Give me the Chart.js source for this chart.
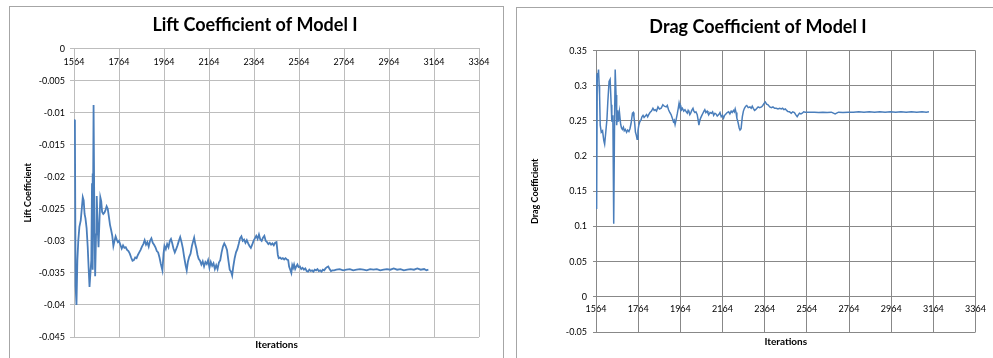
<!DOCTYPE html>
<html>
<head>
<meta charset="utf-8">
<title>Model I coefficients</title>
<script src="https://cdn.jsdelivr.net/npm/chart.js@4.4.1/dist/chart.umd.min.js"></script>
<style>
  body { margin: 0; background: #fff; width: 993px; height: 358px; overflow: hidden; position: relative; }
  .panel { position: absolute; border: 1px solid #a6a6a6; }
  #liftPanel { left: 9px; top: 6px; width: 493px; height: 370px; }
  #dragPanel { left: 516px; top: 7px; width: 500px; height: 370px; }
  canvas { position: absolute; }
  #liftChart { left: 10px; top: 7px; }
  #dragChart { left: 517px; top: 8px; }
</style>
</head>
<body>
<div class="panel" id="liftPanel"></div>
<div class="panel" id="dragPanel"></div>
<canvas id="liftChart" width="492" height="351"></canvas>
<canvas id="dragChart" width="476" height="350"></canvas>
<script>
// iteration axis (shared)
const iterMin = 1564;
const iterMax = 3364;
const iterStep = 200;

// lift coefficient
const liftIters = [
  1564, 1568, 1571, 1575, 1579, 1583, 1588, 1594, 1599, 1603, 1607, 1611, 1615, 1620, 1625, 1629,
  1633, 1637, 1641, 1644, 1646, 1648, 1651, 1654, 1658, 1662, 1665, 1669, 1673, 1677, 1681, 1685,
  1689, 1694, 1699, 1704, 1709, 1714, 1719, 1724, 1729, 1734, 1739, 1744, 1749, 1754, 1759, 1764,
  1770, 1776, 1782, 1788, 1794, 1800, 1806, 1812, 1818, 1824, 1830, 1836, 1842, 1848, 1854, 1860,
  1866, 1872, 1878, 1884, 1890, 1896, 1902, 1908, 1914, 1920, 1926, 1932, 1938, 1944, 1950, 1957,
  1962, 1966, 1972, 1978, 1984, 1990, 1995, 2000, 2006, 2012, 2018, 2024, 2030, 2036, 2042, 2048,
  2054, 2060, 2065, 2070, 2076, 2082, 2088, 2094, 2098, 2103, 2108, 2113, 2118, 2124, 2130, 2136,
  2142, 2148, 2154, 2160, 2166, 2172, 2178, 2184, 2190, 2196, 2202, 2208, 2214, 2220, 2226, 2232,
  2238, 2244, 2250, 2256, 2262, 2267, 2272, 2278, 2284, 2290, 2296, 2302, 2308, 2314, 2320, 2326,
  2332, 2338, 2344, 2350, 2356, 2362, 2368, 2374, 2380, 2386, 2392, 2398, 2404, 2410, 2416, 2422,
  2428, 2434, 2440, 2446, 2452, 2458, 2464, 2470, 2474, 2480, 2486, 2492, 2498, 2504, 2510, 2516,
  2520, 2525, 2530, 2534, 2538, 2542, 2547, 2552, 2557, 2562, 2568, 2574, 2580, 2586, 2592, 2598,
  2604, 2610, 2616, 2622, 2628, 2634, 2640, 2646, 2652, 2658, 2664, 2670, 2676, 2682, 2688, 2694,
  2700, 2706, 2712, 2720, 2730, 2745, 2760, 2775, 2790, 2805, 2820, 2835, 2850, 2865, 2880, 2895,
  2910, 2925, 2940, 2955, 2970, 2985, 3000, 3015, 3030, 3045, 3060, 3075, 3090, 3105, 3120, 3130,
  3139
];
const liftValues = [
  -0.0111, -0.0112, -0.0370, -0.0400, -0.0330, -0.0300, -0.0278, -0.0268, -0.0248, -0.0232, -0.0237, -0.0258, -0.0265, -0.0280, -0.0310, -0.0342,
  -0.0372, -0.0350, -0.0330, -0.0210, -0.0195, -0.0345, -0.0088, -0.0240, -0.0355, -0.0290, -0.0230, -0.0275, -0.0310, -0.0270, -0.0232, -0.0238,
  -0.0255, -0.0258, -0.0256, -0.0252, -0.0246, -0.0250, -0.0262, -0.0275, -0.0283, -0.0292, -0.0308, -0.0300, -0.0293, -0.0298, -0.0302, -0.0300,
  -0.0306, -0.0312, -0.0307, -0.0311, -0.0310, -0.0314, -0.0316, -0.0320, -0.0326, -0.0331, -0.0330, -0.0326, -0.0327, -0.0322, -0.0318, -0.0314,
  -0.0309, -0.0305, -0.0299, -0.0306, -0.0302, -0.0309, -0.0300, -0.0296, -0.0303, -0.0306, -0.0310, -0.0316, -0.0318, -0.0326, -0.0336, -0.0346,
  -0.0320, -0.0308, -0.0313, -0.0305, -0.0310, -0.0300, -0.0297, -0.0303, -0.0312, -0.0318, -0.0313, -0.0307, -0.0300, -0.0294, -0.0302, -0.0312,
  -0.0326, -0.0338, -0.0346, -0.0333, -0.0325, -0.0320, -0.0308, -0.0300, -0.0295, -0.0305, -0.0312, -0.0322, -0.0328, -0.0331, -0.0337, -0.0332,
  -0.0340, -0.0333, -0.0336, -0.0330, -0.0342, -0.0333, -0.0339, -0.0335, -0.0344, -0.0338, -0.0344, -0.0334, -0.0330, -0.0318, -0.0309, -0.0304,
  -0.0308, -0.0314, -0.0330, -0.0345, -0.0348, -0.0354, -0.0340, -0.0327, -0.0318, -0.0313, -0.0305, -0.0296, -0.0293, -0.0300, -0.0298, -0.0303,
  -0.0299, -0.0304, -0.0308, -0.0311, -0.0306, -0.0300, -0.0296, -0.0292, -0.0297, -0.0290, -0.0298, -0.0300, -0.0295, -0.0292, -0.0300, -0.0302,
  -0.0305, -0.0303, -0.0306, -0.0304, -0.0307, -0.0303, -0.0302, -0.0322, -0.0327, -0.0326, -0.0328, -0.0327, -0.0329, -0.0327, -0.0329, -0.0330,
  -0.0340, -0.0345, -0.0350, -0.0338, -0.0342, -0.0337, -0.0344, -0.0340, -0.0337, -0.0341, -0.0340, -0.0344, -0.0342, -0.0345, -0.0343, -0.0347,
  -0.0348, -0.0345, -0.0347, -0.0346, -0.0348, -0.0345, -0.0346, -0.0344, -0.0347, -0.0346, -0.0348, -0.0345, -0.0346, -0.0343, -0.0341, -0.0340,
  -0.0344, -0.0347, -0.0346, -0.0346, -0.0345, -0.0344, -0.0346, -0.0345, -0.0344, -0.0346, -0.0345, -0.0344, -0.0345, -0.0346, -0.0344, -0.0345,
  -0.0344, -0.0346, -0.0345, -0.0344, -0.0345, -0.0343, -0.0345, -0.0344, -0.0346, -0.0345, -0.0344, -0.0345, -0.0343, -0.0345, -0.0344, -0.0346,
  -0.0345
];

// drag coefficient
const dragIters = [
  1564, 1567, 1570, 1573, 1576, 1579, 1581, 1584,
  1589, 1595, 1601, 1605, 1611, 1616, 1620, 1626,
  1631, 1636, 1639, 1644, 1648, 1652, 1655, 1659,
  1662, 1667, 1670, 1675, 1681, 1685, 1689, 1694,
  1698, 1703, 1709, 1714, 1720, 1725, 1730, 1737,
  1741, 1744, 1748, 1751, 1755, 1759, 1763, 1767,
  1772, 1777, 1782, 1787, 1792, 1798, 1804, 1809,
  1814, 1820, 1827, 1834, 1840, 1845, 1851, 1858,
  1865, 1873, 1881, 1888, 1897, 1902, 1908, 1914,
  1920, 1926, 1931, 1935, 1939, 1944, 1950, 1954,
  1958, 1962, 1966, 1970, 1974, 1980, 1986, 1992,
  1997, 2001, 2005, 2009, 2013, 2018, 2024, 2028,
  2033, 2038, 2044, 2048, 2052, 2056, 2060, 2066,
  2071, 2076, 2080, 2085, 2091, 2095, 2099, 2105,
  2112, 2117, 2122, 2128, 2133, 2139, 2146, 2152,
  2158, 2164, 2169, 2174, 2180, 2186, 2193, 2199,
  2205, 2210, 2216, 2220, 2224, 2228, 2232, 2236,
  2239, 2243, 2247, 2252, 2258, 2263, 2268, 2274,
  2279, 2286, 2294, 2300, 2305, 2310, 2316, 2321,
  2327, 2333, 2340, 2349, 2355, 2361, 2367, 2373,
  2380, 2388, 2396, 2403, 2411, 2419, 2427, 2435,
  2443, 2449, 2455, 2462, 2468, 2474, 2482, 2490,
  2497, 2505, 2511, 2518, 2524, 2529, 2536, 2542,
  2549, 2556, 2580, 2600, 2620, 2640, 2660, 2680,
  2698, 2714, 2735, 2760, 2785, 2810, 2835, 2860,
  2885, 2910, 2935, 2960, 2985, 3010, 3035, 3060,
  3085, 3110, 3130, 3143
];
const dragValues = [
  0.316, 0.125, 0.318, 0.312, 0.323, 0.300, 0.287, 0.244,
  0.234, 0.236, 0.222, 0.217, 0.236, 0.253, 0.277, 0.306,
  0.309, 0.273, 0.249, 0.258, 0.104, 0.249, 0.323, 0.287,
  0.244, 0.265, 0.249, 0.263, 0.245, 0.240, 0.238, 0.241,
  0.236, 0.238, 0.234, 0.237, 0.235, 0.239, 0.246, 0.261,
  0.262, 0.256, 0.245, 0.234, 0.230, 0.224, 0.236, 0.244,
  0.249, 0.251, 0.256, 0.258, 0.255, 0.257, 0.259, 0.256,
  0.259, 0.262, 0.264, 0.268, 0.265, 0.266, 0.264, 0.270,
  0.267, 0.268, 0.273, 0.271, 0.270, 0.272, 0.266, 0.262,
  0.259, 0.254, 0.249, 0.251, 0.245, 0.252, 0.261, 0.268,
  0.2755, 0.270, 0.271, 0.266, 0.268, 0.264, 0.266, 0.263,
  0.261, 0.265, 0.263, 0.259, 0.261, 0.265, 0.268, 0.264,
  0.262, 0.263, 0.259, 0.252, 0.244, 0.250, 0.254, 0.258,
  0.261, 0.264, 0.266, 0.262, 0.264, 0.261, 0.259, 0.262,
  0.261, 0.263, 0.258, 0.261, 0.260, 0.257, 0.259, 0.262,
  0.256, 0.258, 0.254, 0.258, 0.260, 0.262, 0.263, 0.260,
  0.264, 0.262, 0.265, 0.263, 0.267, 0.262, 0.254, 0.250,
  0.246, 0.240, 0.237, 0.239, 0.256, 0.264, 0.268, 0.271,
  0.272, 0.269, 0.270, 0.268, 0.271, 0.268, 0.265, 0.266,
  0.268, 0.270, 0.269, 0.270, 0.272, 0.275, 0.277, 0.274,
  0.273, 0.270, 0.269, 0.270, 0.268, 0.268, 0.267, 0.268,
  0.267, 0.268, 0.266, 0.267, 0.265, 0.2635, 0.263, 0.261,
  0.263, 0.262, 0.259, 0.256, 0.259, 0.261, 0.260, 0.261,
  0.263, 0.2625, 0.2625, 0.2625, 0.262, 0.2625, 0.262, 0.2625,
  0.260, 0.2625, 0.262, 0.2625, 0.2625, 0.263, 0.2625, 0.263,
  0.2625, 0.263, 0.2625, 0.263, 0.2625, 0.263, 0.2625, 0.263,
  0.2625, 0.263, 0.2625, 0.263
];

const fontFamily = 'Lato, "Liberation Sans", sans-serif';
Chart.defaults.font.family = fontFamily;
Chart.defaults.color = '#000';

function toPoints(xs, ys) {
  return xs.map((x, i) => ({ x: x, y: ys[i] }));
}

function makeChart(id, cfg) {
  return new Chart(document.getElementById(id), {
    type: 'line',
    data: {
      datasets: [{
        data: toPoints(cfg.iters, cfg.values),
        borderColor: '#4a7ebb',
        borderWidth: cfg.lineWidth,
        pointRadius: 0,
        tension: 0
      }]
    },
    options: {
      responsive: false,
      animation: false,
      layout: { padding: cfg.padding },
      plugins: {
        legend: { display: false },
        tooltip: { enabled: false },
        title: {
          display: true,
          text: cfg.title,
          color: '#000',
          font: { size: 18, weight: 'bold' },
          padding: cfg.titlePad
        },
        subtitle: {
          display: true,
          position: 'bottom',
          fullSize: false,
          text: 'Iterations',
          color: '#000',
          font: { size: 10, weight: 'bold' },
          padding: cfg.xTitlePad
        }
      },
      scales: {
        x: {
          type: 'linear',
          position: { y: 0 },
          min: iterMin,
          max: iterMax,
          ticks: {
            stepSize: iterStep,
            autoSkip: false,
            maxRotation: 0,
            padding: cfg.xTickPad,
            font: { size: 9 },
            color: '#000',
            callback: v => String(v)
          },
          grid: { color: cfg.gridColor, drawTicks: false },
          border: { color: cfg.gridColor }
        },
        y: {
          min: cfg.yMin,
          max: cfg.yMax,
          ticks: {
            stepSize: cfg.yStep,
            padding: cfg.yTickPad,
            font: { size: 9 },
            color: '#000',
            callback: v => String(+v.toFixed(3))
          },
          grid: { color: cfg.gridColor, tickLength: cfg.yTickLen },
          border: { color: cfg.gridColor },
          title: {
            display: true,
            text: cfg.yTitle,
            color: '#000',
            font: { size: 9, weight: 'bold' },
            padding: { top: cfg.yTitleOffset, bottom: 0 }
          },
          afterFit: s => { s.width = cfg.yWidth; }
        }
      }
    }
  });
}

makeChart('liftChart', {
  iters: liftIters,
  values: liftValues,
  lineWidth: 1.8,
  title: 'Lift Coefficient of Model I',
  yTitle: 'Lift Coefficient',
  yMin: -0.045, yMax: 0, yStep: 0.005,
  padding: { left: 21, right: 23, top: 0, bottom: 0 },
  titlePad: { top: 7, bottom: 13 },
  xTitlePad: { top: 2, bottom: 7 },
  xTickPad: 8,
  yTickPad: 5,
  yTickLen: 4,
  yWidth: 43,
  yTitleOffset: -8.4,
  gridColor: '#bdbdbd'
});

makeChart('dragChart', {
  iters: dragIters,
  values: dragValues,
  lineWidth: 1.5,
  title: 'Drag Coefficient of Model I',
  yTitle: 'Drag Coefficient',
  yMin: -0.05, yMax: 0.35, yStep: 0.05,
  padding: { left: 20, right: 14, top: 0, bottom: 0 },
  titlePad: { top: 8, bottom: 13 },
  xTitlePad: { top: 4, bottom: 10 },
  xTickPad: 7,
  yTickPad: 6,
  yTickLen: 3,
  yWidth: 59,
  yTitleOffset: -7.4,
  gridColor: '#888888'
});
</script>
</body>
</html>
